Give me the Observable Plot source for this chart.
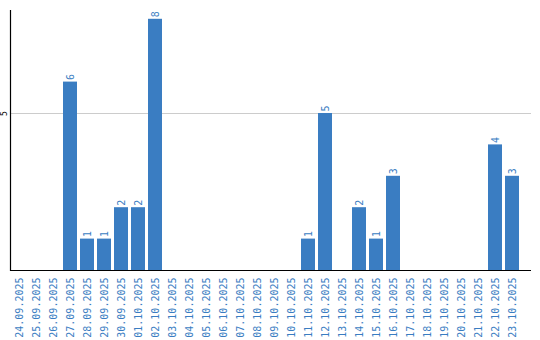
<!DOCTYPE html>
<html><head><meta charset="utf-8">
<script src="https://cdn.jsdelivr.net/npm/d3@7"></script>
<script src="https://cdn.jsdelivr.net/npm/@observablehq/plot@0.6"></script>
<style>body{margin:0;background:#fff;overflow:hidden}svg{display:block}</style>
</head><body><div id="chart"></div>
<script>
const dates = ["24.09.2025","25.09.2025","26.09.2025","27.09.2025","28.09.2025","29.09.2025","30.09.2025","01.10.2025","02.10.2025","03.10.2025","04.10.2025","05.10.2025","06.10.2025","07.10.2025","08.10.2025","09.10.2025","10.10.2025","11.10.2025","12.10.2025","13.10.2025","14.10.2025","15.10.2025","16.10.2025","17.10.2025","18.10.2025","19.10.2025","20.10.2025","21.10.2025","22.10.2025","23.10.2025"];
const values = [0,0,0,6,1,1,2,2,8,0,0,0,0,0,0,0,0,1,5,0,2,1,3,0,0,0,0,0,4,3];
const yTicks = [5];
const data = dates.map((d,i)=>({date:d, value:values[i]}));
const blue = "#3a7dc2";
const chart = Plot.plot({
  width: 540, height: 340,
  marginTop: 10, marginBottom: 70, marginLeft: 10, marginRight: 9,
  style: {fontFamily: "DejaVu Sans Mono", fontSize: "10px", background: "#fff"},
  x: {domain: dates, range: [10, 520], paddingInner: 0.18, paddingOuter: 0.09, label: null},
  y: {domain: [0, 8.28], label: null},
  marks: [
    Plot.gridY(yTicks, {stroke: "#cccccc", strokeOpacity: 1}),
    Plot.barY(data, {x: "date", y: "value", fill: blue}),
    Plot.text(data.filter(d => d.value > 0), {x: "date", y: "value", text: d => String(d.value), rotate: -90, textAnchor: "start", dy: -2, fill: blue, fontSize: 10}),
    Plot.axisX({tickRotate: -90, tickSize: 0, tickPadding: 7, color: blue, fill: blue, fontSize: 10, label: null}),
    Plot.axisY(yTicks, {tickSize: 0, tickRotate: -90, tickPadding: 4, fontSize: 8, fill: "#000", label: null}),
    Plot.ruleY([0], {stroke: "#000", strokeWidth: 1.2}),
    Plot.frame({anchor: "left", stroke: "#000", strokeWidth: 1.2})
  ]
});
document.getElementById("chart").appendChild(chart);
</script></body></html>
